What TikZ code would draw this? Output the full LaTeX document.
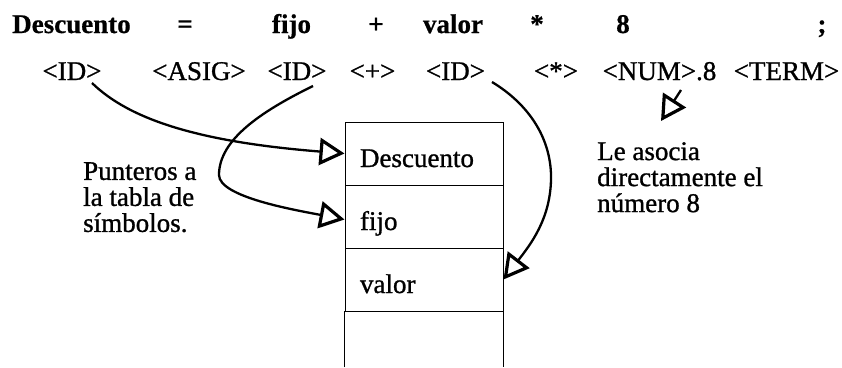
\documentclass[tikz,border=0pt]{standalone}
\usepackage{fontspec}
\setmainfont{Liberation Serif}[UprightFeatures={FakeBold=1}, BoldFeatures={FakeBold=0.6}]
\usetikzlibrary{arrows.meta}
\begin{document}
\begin{tikzpicture}[x=1pt,y=-1pt,
  tok/.style={font=\fontsize{27}{28}\selectfont, inner sep=0pt, anchor=base},
  btok/.style={font=\fontsize{27}{28}\selectfont\bfseries, inner sep=0pt, anchor=base},
  cell/.style={draw, line width=1pt, minimum width=158pt, minimum height=63pt,
    text width=128pt, inner xsep=15pt, inner ysep=0pt, align=left,
    text height=27pt, text depth=0pt, font=\fontsize{27}{28}\selectfont},
  note/.style={font=\fontsize{27}{26}\selectfont, inner sep=0pt, align=left, anchor=north west},
  ptr/.style={line width=2.3pt, -{Triangle[open, length=25pt, width=27pt, line width=3.2pt]}},
]
\useasboundingbox (0,0) rectangle (842,367);
% source line
\node[btok] (b1) at (71.5,33) {Descuento};
\node[btok] (b2) at (185,33) {=};
\node[btok] (b3) at (291.5,33) {fijo};
\node[btok] (b4) at (376,33) {+};
\node[btok] (b5) at (453,33) {valor};
\node[btok] (b6) at (537,33) {*};
\node[btok] (b7) at (623,33) {8};
\node[btok] (b8) at (822,33) {;};
% tokens
\node[tok] (id1) at (72,80) {<ID>};
\node[tok] (asig) at (199,80) {<ASIG>};
\node[tok] (id2) at (297,80) {<ID>};
\node[tok] (plus) at (372.5,80) {<+>};
\node[tok] (id3) at (455.5,80) {<ID>};
\node[tok] (star) at (556,80) {<*>};
\node[tok] (num) at (659.5,80) {<NUM>.8};
\node[tok] (term) at (786.5,80) {<TERM>};
% symbol table
\node[cell] (r1) at (424,153.5) {Descuento};
\node[cell] (r2) at (424,216.5) {fijo};
\node[cell] (r3) at (424,279.5) {valor};
\node[minimum width=158pt, minimum height=56pt, inner sep=0pt] (r4) at (424,339) {};
\draw[line width=1pt] (r4.south west) -- (r4.north west) (r4.north east) -- (r4.south east);
% notes
\node[note] (n1) at (83,162) {Punteros a\\la tabla de\\símbolos.};
\node[note] (n2) at (597,142) {Le asocia\\directamente el\\número 8};
% pointers
\coordinate (s1) at ([shift={(20,3)}]id1.base);
\coordinate (s2) at ([shift={(16,6)}]id2.base);
\coordinate (s3) at ([shift={(36.5,2)}]id3.base);
\coordinate (s4) at ([shift={(21.5,10)}]num.base);
\coordinate (t4) at ([shift={(64,-21)}]n2.north west);
\draw[ptr] (s1) .. controls (130,120) and (200,142) .. (r1.west);
\draw[ptr] (s2) .. controls (260,112) and (219,140) .. (219,175)
           .. controls (219,197) and (295,210) .. ([shift={(0,3)}]r2.west);
\draw[ptr] (s3) .. controls (530,105) and (552,140) .. (551,180)
           .. controls (550,220) and (530,245) .. (r3.east);
\draw[ptr] (s4) -- (t4);
\end{tikzpicture}
\end{document}
